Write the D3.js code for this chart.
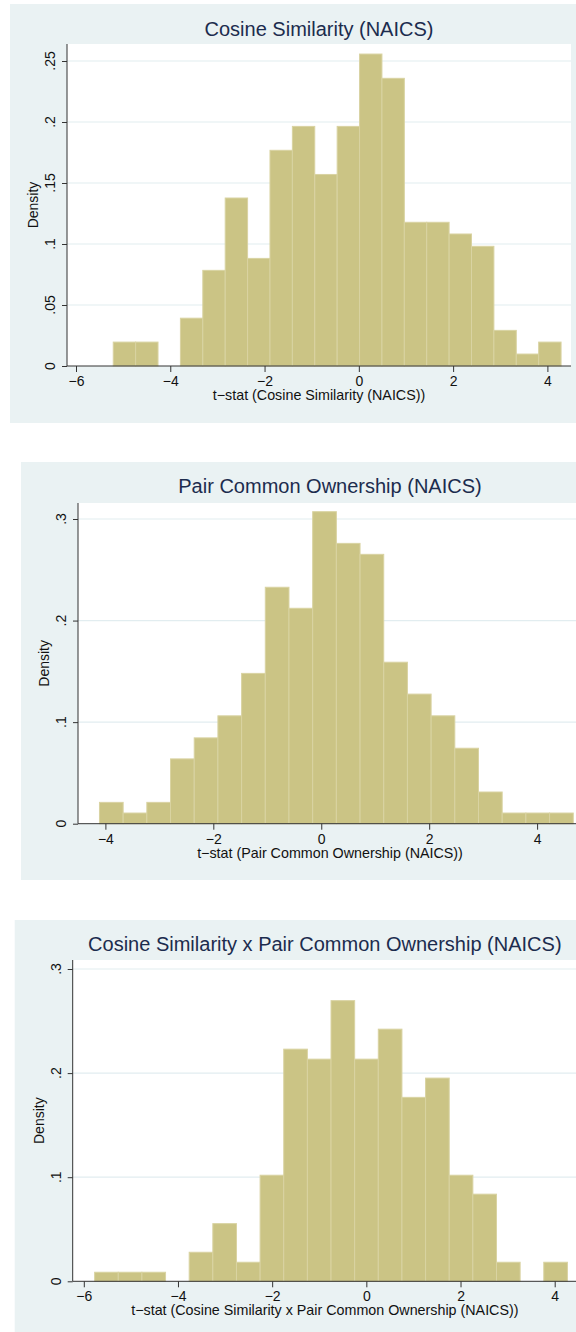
<!DOCTYPE html>
<html>
<head>
<meta charset="utf-8">
<script src="https://cdn.jsdelivr.net/npm/d3@7"></script>
<style>
  body { margin: 0; background: #fff; }
  svg { display: block; font-family: "Liberation Sans", Arial, Helvetica, sans-serif; }
</style>
</head>
<body>
<div id="chart"></div>
<script>
// histogram densities (20 bins each)
const cosTitle = 'Cosine Similarity (NAICS)';
const cosBinStart = -5.21;
const cosBinWidth = 0.475;
const cosDensity = [0.0196, 0.0196, 0, 0.0392, 0.0784, 0.1377, 0.0882, 0.1768, 0.1964, 0.157,
  0.1964, 0.2557, 0.2358, 0.1178, 0.1178, 0.1082, 0.0981, 0.0292, 0.0098, 0.0196];
const cosXTicks = [-6, -4, -2, 0, 2, 4];
const cosYTicks = [0, 0.05, 0.1, 0.15, 0.2, 0.25];

const pairTitle = 'Pair Common Ownership (NAICS)';
const pairBinStart = -4.11;
const pairBinWidth = 0.439;
const pairDensity = [0.021, 0.0105, 0.021, 0.0638, 0.0845, 0.1062, 0.148, 0.2328, 0.2121, 0.3072,
  0.276, 0.2652, 0.159, 0.1276, 0.1062, 0.0743, 0.0312, 0.0105, 0.0105, 0.0105];
const pairXTicks = [-4, -2, 0, 2, 4];
const pairYTicks = [0, 0.1, 0.2, 0.3];

const interTitle = 'Cosine Similarity x Pair Common Ownership (NAICS)';
const interBinStart = -5.77;
const interBinWidth = 0.502;
const interDensity = [0.0087, 0.0087, 0.0087, 0, 0.0279, 0.0554, 0.0183, 0.1019, 0.223, 0.2134,
  0.2696, 0.2134, 0.2422, 0.1767, 0.1952, 0.1019, 0.0837, 0.0183, 0, 0.0183];
const interXTicks = [-6, -4, -2, 0, 2, 4];
const interYTicks = [0, 0.1, 0.2, 0.3];

const width = 576;
const height = 1332;

const svg = d3.select('#chart')
  .append('svg')
  .attr('width', width)
  .attr('height', height);

const fmtX = d => d < 0 ? '\u2212' + (-d) : String(d);
const fmtY = d => d === 0 ? '0' : String(d).replace(/^0/, '');

function drawPanel(p) {
  const g = svg.append('g');

  // outer shaded region
  g.append('rect')
    .attr('x', p.bg[0]).attr('y', p.bg[1])
    .attr('width', p.bg[2]).attr('height', p.bg[3])
    .attr('fill', '#eaf2f3');

  // white plot region
  g.append('rect')
    .attr('x', p.left).attr('y', p.top)
    .attr('width', p.right - p.left).attr('height', p.bottom - p.top)
    .attr('fill', '#fff');

  const x = d3.scaleLinear().domain([p.xTicks[0], p.xTicks[p.xTicks.length - 1]]).range(p.xRange);
  const y = d3.scaleLinear().domain([0, p.yTicks[p.yTicks.length - 1]]).range(p.yRange);

  // grid lines
  g.selectAll('.grid')
    .data(p.yTicks.filter(d => d > 0))
    .enter()
    .append('line')
    .attr('x1', p.left).attr('x2', p.right)
    .attr('y1', d => y(d)).attr('y2', d => y(d))
    .attr('stroke', '#e2edf0')
    .attr('stroke-width', 1.2);

  // bars
  g.selectAll('.bar')
    .data(p.density)
    .enter()
    .append('rect')
    .attr('x', (d, i) => x(p.binStart + i * p.binWidth))
    .attr('width', x(p.binWidth) - x(0))
    .attr('y', d => y(d))
    .attr('height', d => y(0) - y(d))
    .attr('fill', '#cbc485')
    .attr('stroke', '#d9d3a2')
    .attr('stroke-width', 1);

  // y axis
  const ya = g.append('g')
    .attr('transform', 'translate(' + p.left + ',0)')
    .call(d3.axisLeft(y).tickValues(p.yTicks).tickSize(5).tickSizeOuter(0).tickFormat(''));
  ya.select('.domain').attr('stroke', '#333').attr('d', 'M0,' + p.top + 'V' + p.bottom);
  ya.selectAll('.tick line').attr('stroke', '#333');

  g.selectAll('.ylab')
    .data(p.yTicks)
    .enter()
    .append('text')
    .attr('transform', d => 'translate(' + (p.left - 12) + ',' + y(d) + ')rotate(-90)')
    .attr('text-anchor', 'middle')
    .attr('font-size', 14)
    .attr('fill', '#111')
    .text(fmtY);

  // x axis
  const xa = g.append('g')
    .attr('transform', 'translate(0,' + p.bottom + ')')
    .call(d3.axisBottom(x).tickValues(p.xTicks).tickSize(6).tickSizeOuter(0).tickFormat(fmtX));
  xa.select('.domain').attr('stroke', '#333').attr('d', 'M' + p.left + ',0H' + p.right);
  xa.selectAll('.tick line').attr('stroke', '#333');
  xa.selectAll('.tick text')
    .attr('y', 20).attr('dy', 0)
    .attr('font-size', 14)
    .attr('font-family', '"Liberation Sans", Arial, sans-serif')
    .attr('fill', '#111');

  // titles
  g.append('text')
    .attr('x', (p.left + p.right) / 2)
    .attr('y', p.titleY)
    .attr('text-anchor', 'middle')
    .attr('font-size', 20)
    .attr('fill', '#1c2c4e')
    .text(p.title);

  g.append('text')
    .attr('x', (p.left + p.right) / 2)
    .attr('y', p.bottom + 34)
    .attr('text-anchor', 'middle')
    .attr('font-size', 14.3)
    .attr('fill', '#111')
    .text('t\u2212stat (' + p.title + ')');

  g.append('text')
    .attr('transform', 'translate(' + (p.left - 29) + ',' + (p.top + p.bottom) / 2 + ')rotate(-90)')
    .attr('text-anchor', 'middle')
    .attr('font-size', 14)
    .attr('fill', '#111')
    .text('Density');
}

drawPanel({
  title: cosTitle, binStart: cosBinStart, binWidth: cosBinWidth, density: cosDensity,
  xTicks: cosXTicks, yTicks: cosYTicks,
  bg: [10, 4, 570, 419], left: 67, right: 571, top: 44, bottom: 366,
  xRange: [76, 547.4], yRange: [366, 61], titleY: 36
});

drawPanel({
  title: pairTitle, binStart: pairBinStart, binWidth: pairBinWidth, density: pairDensity,
  xTicks: pairXTicks, yTicks: pairYTicks,
  bg: [21, 462, 560, 418], left: 78, right: 582, top: 503, bottom: 823.7,
  xRange: [105.4, 537.1], yRange: [823.7, 519], titleY: 493
});

drawPanel({
  title: interTitle, binStart: interBinStart, binWidth: interBinWidth, density: interDensity,
  xTicks: interXTicks, yTicks: interYTicks,
  bg: [14.7, 920, 565, 420], left: 72.7, right: 577, top: 960, bottom: 1281.3,
  xRange: [83.8, 554.7], yRange: [1281.3, 969], titleY: 951
});
</script>
</body>
</html>
